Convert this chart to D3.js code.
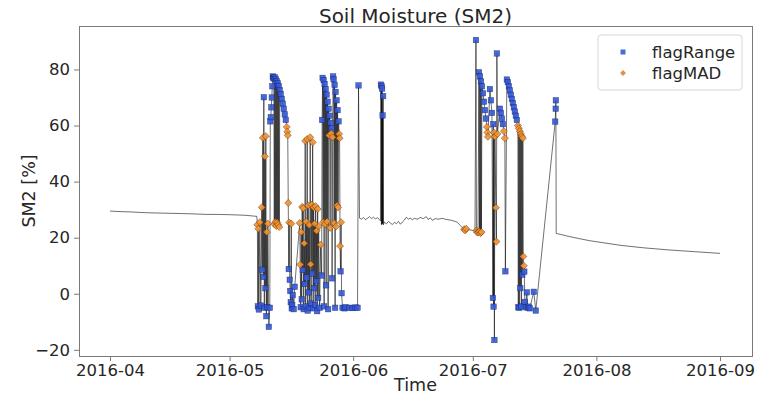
<!DOCTYPE html>
<html>
<head>
<meta charset="utf-8">
<script src="https://cdn.jsdelivr.net/npm/d3@7"></script>
<style>
  body { margin: 0; background: #fff; }
  svg text { font-family: "DejaVu Sans", sans-serif; fill: #262626; }
</style>
</head>
<body>
<svg id="chart" width="769" height="394"></svg>
<script>
// DATA  [time, SM2 %, flag]   flag: '' = ok, 'R' = flagRange, 'M' = flagMAD
const aprilCalm = [
  ['2016-04-01 00:00', 29.5, ''], ['2016-04-03 12:00', 29.3, ''], ['2016-04-06 00:00', 29.2, ''],
  ['2016-04-08 12:00', 29.0, ''], ['2016-04-10 06:00', 28.9, ''], ['2016-04-13 00:00', 28.8, ''],
  ['2016-04-16 00:00', 28.7, ''], ['2016-04-19 00:00', 28.6, ''], ['2016-04-21 12:00', 28.5, ''],
  ['2016-04-25 06:00', 28.3, ''], ['2016-04-28 00:00', 28.3, ''], ['2016-05-01 00:00', 28.2, ''],
  ['2016-05-04 21:00', 28.0, ''], ['2016-05-07 20:00', 27.6, ''],
]

const mayBurst = [
  ['2016-05-07 23:00', 24.6, 'M'], ['2016-05-08 02:00', -4.5, 'R'], ['2016-05-08 05:00', 23.2, 'M'],
  ['2016-05-08 08:00', -5.6, 'R'], ['2016-05-08 14:00', 25.5, 'M'], ['2016-05-08 20:00', -4.2, 'R'],
  ['2016-05-09 02:00', 30.8, 'M'], ['2016-05-09 05:00', 8.6, 'R'], ['2016-05-09 08:00', 55.6, 'M'],
  ['2016-05-09 11:00', 6.0, 'R'], ['2016-05-09 14:00', 70.1, 'R'], ['2016-05-09 17:00', -5.0, 'R'],
  ['2016-05-09 20:00', 49.0, 'M'], ['2016-05-09 23:00', 2.0, 'R'], ['2016-05-10 02:00', 56.2, 'M'],
  ['2016-05-10 05:00', -8.0, 'R'], ['2016-05-10 08:00', 22.0, 'M'], ['2016-05-10 11:00', -4.8, 'R'],
  ['2016-05-10 14:00', 25.0, 'M'], ['2016-05-10 20:00', -11.8, 'R'], ['2016-05-11 02:00', -5.0, 'R'],
  ['2016-05-11 05:00', 61.5, 'R'], ['2016-05-11 08:00', 63.0, 'R'], ['2016-05-11 11:00', 66.5, 'R'],
  ['2016-05-11 14:00', 70.0, 'R'], ['2016-05-11 17:00', 74.0, 'R'], ['2016-05-11 20:00', 77.5, 'R'],
  ['2016-05-11 23:00', 77.0, 'R'], ['2016-05-12 02:00', 76.8, 'R'], ['2016-05-12 05:00', 24.8, 'M'],
  ['2016-05-12 08:00', 77.2, 'R'], ['2016-05-12 11:00', 25.6, 'M'], ['2016-05-12 14:00', 76.5, 'R'],
  ['2016-05-12 17:00', 24.2, 'M'], ['2016-05-12 20:00', 75.8, 'R'], ['2016-05-12 23:00', 25.4, 'M'],
  ['2016-05-13 02:00', 75.0, 'R'], ['2016-05-13 05:00', 24.6, 'M'], ['2016-05-13 08:00', 74.0, 'R'],
  ['2016-05-13 11:00', 23.8, 'M'], ['2016-05-13 14:00', 72.6, 'R'], ['2016-05-13 20:00', 71.2, 'R'],
  ['2016-05-14 02:00', 69.5, 'R'], ['2016-05-14 08:00', 67.8, 'R'], ['2016-05-14 14:00', 66.0, 'R'],
  ['2016-05-14 20:00', 64.0, 'R'], ['2016-05-15 02:00', 62.0, 'R'], ['2016-05-15 08:00', 59.5, 'M'],
  ['2016-05-15 11:00', 57.8, 'M'], ['2016-05-15 14:00', 56.5, 'M'], ['2016-05-15 17:00', 32.4, 'M'],
  ['2016-05-15 20:00', 8.8, 'R'], ['2016-05-15 23:00', 25.4, 'M'], ['2016-05-16 02:00', 5.0, 'R'],
  ['2016-05-16 05:00', 1.0, 'R'], ['2016-05-16 08:00', -3.0, 'R'], ['2016-05-16 11:00', 25.0, 'M'],
  ['2016-05-16 14:00', -5.2, 'R'], ['2016-05-16 17:00', -4.0, 'R'], ['2016-05-16 20:00', -0.5, 'R'],
  ['2016-05-17 02:00', -5.5, 'R'], ['2016-05-17 08:00', 2.5, 'R'],
  ['2016-05-18 14:00', 25.2, 'M'], ['2016-05-18 17:00', 10.4, 'M'], ['2016-05-18 20:00', -4.8, 'R'],
  ['2016-05-18 23:00', 22.0, 'M'], ['2016-05-19 02:00', -2.0, 'R'], ['2016-05-19 05:00', 31.0, 'M'],
  ['2016-05-19 08:00', 8.5, 'R'], ['2016-05-19 11:00', 30.5, 'M'], ['2016-05-19 14:00', -5.5, 'R'],
  ['2016-05-19 17:00', 18.0, 'M'], ['2016-05-19 20:00', 3.5, 'R'], ['2016-05-19 23:00', 54.5, 'M'],
  ['2016-05-20 02:00', -4.5, 'R'], ['2016-05-20 05:00', 25.8, 'M'], ['2016-05-20 08:00', 5.8, 'R'],
  ['2016-05-20 11:00', 55.2, 'M'], ['2016-05-20 14:00', -6.0, 'R'], ['2016-05-20 17:00', 31.5, 'M'],
  ['2016-05-20 20:00', 0.5, 'R'], ['2016-05-20 23:00', 24.5, 'M'], ['2016-05-21 02:00', -5.0, 'R'],
  ['2016-05-21 05:00', 55.8, 'M'], ['2016-05-21 08:00', 10.5, 'M'], ['2016-05-21 11:00', -3.5, 'R'],
  ['2016-05-21 14:00', 31.8, 'M'], ['2016-05-21 17:00', 7.2, 'R'], ['2016-05-21 20:00', 54.0, 'M'],
  ['2016-05-21 23:00', -5.2, 'R'], ['2016-05-22 02:00', 30.8, 'M'], ['2016-05-22 05:00', 2.0, 'R'],
  ['2016-05-22 08:00', 25.0, 'M'], ['2016-05-22 11:00', -4.0, 'R'], ['2016-05-22 14:00', 31.2, 'M'],
  ['2016-05-22 17:00', 4.5, 'R'], ['2016-05-22 20:00', 22.5, 'M'], ['2016-05-22 23:00', -6.2, 'R'],
  ['2016-05-23 02:00', 30.2, 'M'], ['2016-05-23 05:00', -1.5, 'R'], ['2016-05-23 08:00', 24.0, 'M'],
  ['2016-05-23 14:00', -5.0, 'R'], ['2016-05-23 20:00', 17.5, 'M'], ['2016-05-24 02:00', 6.5, 'R'],
  ['2016-05-24 05:00', 62.0, 'R'], ['2016-05-24 08:00', 77.0, 'R'], ['2016-05-24 11:00', 25.5, 'M'],
  ['2016-05-24 14:00', 76.2, 'R'], ['2016-05-24 17:00', -4.5, 'R'], ['2016-05-24 20:00', 74.8, 'R'],
  ['2016-05-24 23:00', 24.8, 'M'], ['2016-05-25 02:00', 73.0, 'R'], ['2016-05-25 05:00', 3.0, 'R'],
  ['2016-05-25 08:00', 71.0, 'R'], ['2016-05-25 11:00', 25.8, 'M'], ['2016-05-25 14:00', 68.5, 'R'],
  ['2016-05-25 17:00', -5.5, 'R'], ['2016-05-25 20:00', 66.0, 'R'], ['2016-05-25 23:00', 56.5, 'M'],
  ['2016-05-26 02:00', 63.5, 'R'], ['2016-05-26 05:00', 23.5, 'M'], ['2016-05-26 08:00', 61.0, 'R'],
  ['2016-05-26 11:00', 57.2, 'M'], ['2016-05-26 14:00', 59.0, 'R'], ['2016-05-26 17:00', 5.5, 'R'],
  ['2016-05-26 20:00', 55.8, 'M'], ['2016-05-26 23:00', 77.5, 'R'], ['2016-05-27 02:00', 76.5, 'R'],
  ['2016-05-27 05:00', 25.2, 'M'], ['2016-05-27 08:00', 74.5, 'R'], ['2016-05-27 11:00', -5.0, 'R'],
  ['2016-05-27 14:00', 72.0, 'R'], ['2016-05-27 17:00', 24.0, 'M'], ['2016-05-27 20:00', 69.0, 'R'],
  ['2016-05-27 23:00', 31.5, 'M'], ['2016-05-28 02:00', 65.5, 'R'], ['2016-05-28 05:00', 30.8, 'M'],
  ['2016-05-28 08:00', 61.5, 'R'], ['2016-05-28 11:00', 57.0, 'M'], ['2016-05-28 14:00', 55.5, 'M'],
  ['2016-05-28 17:00', 17.0, 'M'], ['2016-05-28 20:00', 8.0, 'R'], ['2016-05-28 23:00', 25.5, 'M'],
  ['2016-05-29 02:00', 0.2, 'R'], ['2016-05-29 08:00', -5.0, 'R'], ['2016-05-29 20:00', -5.2, 'R'],
  ['2016-05-30 02:00', -4.8, 'R'], ['2016-05-31 02:00', -5.0, 'R'], ['2016-05-31 20:00', -5.1, 'R'],
  ['2016-06-01 14:00', -4.9, 'R'], ['2016-06-02 02:00', -5.0, 'R'], ['2016-06-02 08:00', 74.3, 'R'],
]

const juneCalm = [
  ['2016-06-02 14:00', 27.0, ''], ['2016-06-03 02:00', 26.6, ''], ['2016-06-03 14:00', 27.2, ''],
  ['2016-06-04 02:00', 26.4, ''], ['2016-06-04 14:00', 26.9, ''], ['2016-06-05 02:00', 27.5, ''],
  ['2016-06-05 14:00', 26.8, ''], ['2016-06-06 02:00', 27.3, ''], ['2016-06-06 14:00', 26.7, ''],
  ['2016-06-07 02:00', 27.1, ''], ['2016-06-07 14:00', 26.5, ''], ['2016-06-07 20:00', 26.0, ''],
  ['2016-06-07 23:00', 74.6, 'R'], ['2016-06-08 02:00', 24.6, ''], ['2016-06-08 03:00', 74.0, 'R'],
  ['2016-06-08 05:00', 25.0, ''], ['2016-06-08 06:00', 73.2, 'R'], ['2016-06-08 08:00', 24.8, ''],
  ['2016-06-08 09:00', 63.6, 'R'], ['2016-06-08 11:00', 25.2, ''], ['2016-06-08 12:00', 70.5, 'R'],
  ['2016-06-08 14:00', 24.6, ''], ['2016-06-08 20:00', 25.6, ''], ['2016-06-09 08:00', 24.9, ''],
  ['2016-06-09 20:00', 25.8, ''], ['2016-06-10 08:00', 25.2, ''], ['2016-06-10 20:00', 24.7, ''],
  ['2016-06-11 08:00', 25.5, ''], ['2016-06-11 20:00', 25.0, ''], ['2016-06-12 08:00', 25.8, ''],
  ['2016-06-12 20:00', 24.8, ''], ['2016-06-13 08:00', 25.6, ''], ['2016-06-13 20:00', 26.3, ''],
  ['2016-06-14 08:00', 27.3, ''], ['2016-06-14 20:00', 26.6, ''], ['2016-06-15 08:00', 27.0, ''],
  ['2016-06-15 20:00', 26.4, ''], ['2016-06-16 08:00', 26.9, ''], ['2016-06-17 02:00', 26.6, ''],
  ['2016-06-17 20:00', 27.2, ''], ['2016-06-18 14:00', 26.8, ''], ['2016-06-19 08:00', 27.5, ''],
  ['2016-06-19 20:00', 26.5, ''], ['2016-06-20 08:00', 27.1, ''], ['2016-06-20 20:00', 26.2, ''],
  ['2016-06-21 14:00', 26.8, ''], ['2016-06-22 08:00', 26.6, ''], ['2016-06-23 08:00', 26.9, ''],
  ['2016-06-24 08:00', 26.5, ''], ['2016-06-25 08:00', 26.3, ''], ['2016-06-26 08:00', 25.9, ''],
  ['2016-06-27 02:00', 25.5, ''], ['2016-06-27 20:00', 24.4, ''], ['2016-06-28 08:00', 23.6, ''],
  ['2016-06-28 20:00', 23.0, 'M'], ['2016-06-29 02:00', 22.6, 'M'], ['2016-06-29 08:00', 23.2, 'M'],
  ['2016-06-29 20:00', 22.9, ''], ['2016-06-30 07:00', 22.8, ''], ['2016-07-01 01:00', 22.5, ''],
  ['2016-07-01 13:00', 22.4, ''],
]

const julyBurst = [
  ['2016-07-01 19:00', 90.5, 'R'], ['2016-07-01 22:00', 22.6, 'M'], ['2016-07-02 01:00', 22.0, 'M'],
  ['2016-07-02 07:00', 21.8, 'M'], ['2016-07-02 13:00', 79.0, 'R'], ['2016-07-02 16:00', 22.2, 'M'],
  ['2016-07-02 19:00', 77.5, 'R'], ['2016-07-02 22:00', 21.6, 'M'], ['2016-07-03 01:00', 75.8, 'R'],
  ['2016-07-03 04:00', 22.0, 'M'], ['2016-07-03 07:00', 74.0, 'R'], ['2016-07-03 13:00', 71.5, 'R'],
  ['2016-07-03 19:00', 68.5, 'R'], ['2016-07-04 01:00', 65.5, 'R'], ['2016-07-04 07:00', 62.5, 'R'],
  ['2016-07-04 13:00', 59.5, 'M'], ['2016-07-04 16:00', 57.5, 'M'], ['2016-07-04 19:00', 56.0, 'M'],
  ['2016-07-05 07:00', 73.0, 'R'], ['2016-07-05 13:00', 69.0, 'R'], ['2016-07-05 19:00', 64.5, 'R'],
  ['2016-07-06 01:00', -1.5, 'R'], ['2016-07-06 03:00', 60.5, 'R'], ['2016-07-06 05:00', -4.6, 'R'],
  ['2016-07-06 07:00', 57.5, 'M'], ['2016-07-06 10:00', -16.5, 'R'], ['2016-07-06 13:00', 56.0, 'M'],
  ['2016-07-06 19:00', 30.7, 'M'], ['2016-07-06 22:00', 18.6, 'M'], ['2016-07-07 01:00', 85.7, 'R'],
  ['2016-07-07 04:00', 57.0, 'M'], ['2016-07-07 19:00', 66.0, 'R'], ['2016-07-08 01:00', 64.5, 'R'],
  ['2016-07-08 07:00', 62.5, 'R'], ['2016-07-08 13:00', 60.5, 'R'], ['2016-07-08 19:00', 58.0, 'M'],
  ['2016-07-09 01:00', 55.5, 'M'], ['2016-07-09 04:00', 8.0, 'R'], ['2016-07-09 13:00', 76.4, 'R'],
  ['2016-07-09 19:00', 75.5, 'R'], ['2016-07-10 01:00', 74.0, 'R'], ['2016-07-10 07:00', 72.5, 'R'],
  ['2016-07-10 13:00', 71.0, 'R'], ['2016-07-10 19:00', 69.5, 'R'], ['2016-07-11 01:00', 68.0, 'R'],
  ['2016-07-11 07:00', 66.5, 'R'], ['2016-07-11 13:00', 65.0, 'R'], ['2016-07-11 19:00', 63.5, 'R'],
  ['2016-07-12 01:00', 62.0, 'R'], ['2016-07-12 07:00', 60.0, 'M'], ['2016-07-12 10:00', -4.8, 'R'],
  ['2016-07-12 13:00', 59.0, 'M'], ['2016-07-12 16:00', -5.0, 'R'], ['2016-07-12 19:00', 58.0, 'M'],
  ['2016-07-12 22:00', 2.0, 'R'], ['2016-07-13 01:00', 57.0, 'M'], ['2016-07-13 04:00', -4.5, 'R'],
  ['2016-07-13 07:00', 56.2, 'M'], ['2016-07-13 10:00', 6.8, 'R'], ['2016-07-13 13:00', 55.5, 'M'],
  ['2016-07-13 16:00', 13.3, 'M'], ['2016-07-13 19:00', 10.0, 'M'], ['2016-07-13 22:00', 7.9, 'R'],
  ['2016-07-14 01:00', -2.9, 'R'], ['2016-07-14 07:00', -4.8, 'R'], ['2016-07-14 13:00', 0.5, 'R'],
  ['2016-07-14 19:00', -5.0, 'R'], ['2016-07-15 01:00', -4.6, 'R'], ['2016-07-15 07:00', -5.2, 'R'],
  ['2016-07-16 07:00', 0.7, 'R'], ['2016-07-16 19:00', -6.0, 'R'], ['2016-07-21 16:00', 61.4, 'R'],
  ['2016-07-21 19:00', 66.0, 'R'], ['2016-07-21 20:00', 69.0, 'R'],
]

const augustCalm = [
  ['2016-07-21 22:00', 21.5, ''], ['2016-07-22 22:00', 21.2, ''], ['2016-07-24 22:00', 20.5, ''],
  ['2016-07-27 22:00', 19.6, ''], ['2016-07-30 10:00', 18.9, ''], ['2016-08-02 16:00', 18.2, ''],
  ['2016-08-06 22:00', 17.3, ''], ['2016-08-12 17:00', 16.4, ''], ['2016-08-19 11:00', 15.6, ''],
  ['2016-08-25 17:00', 15.0, ''], ['2016-09-01 00:00', 14.4, ''],
]

const monthTicks = ['2016-04-01', '2016-05-01', '2016-06-01', '2016-07-01', '2016-08-01', '2016-09-01']
const valueTicks = [-20, 0, 20, 40, 60, 80]
const legendItems = [
  { key: 'R', label: 'flagRange' },
  { key: 'M', label: 'flagMAD' },
]

// PARSE
const parseTime = d3.utcParse('%Y-%m-%d %H:%M')
const series = [...aprilCalm, ...mayBurst, ...juneCalm, ...julyBurst, ...augustCalm]
  .map(([t, v, flag]) => ({ date: parseTime(t), value: v, flag }))

// SIZES
const margin = { top: 26, right: 17, bottom: 38, left: 79 }
const width = 769 - margin.left - margin.right
const height = 394 - margin.top - margin.bottom
const frameColor = '#7a7a7a'

const svg = d3.select('#chart')
const chart = svg.append('g').attr('transform', `translate(${margin.left},${margin.top})`)

// SCALES (data spans Apr 1 - Sep 1, matplotlib style 5% padding on both sides)
const xScale = d3.scaleUtc()
  .domain([new Date(Date.UTC(2016, 3, 1)), new Date(Date.UTC(2016, 8, 1))])
  .range([31, width - 32])

const yScale = d3.scaleLinear()
  .domain([-22.2, 95.5])
  .range([height, 0])

// AXES
const xAxis = d3.axisBottom(xScale)
  .tickValues(monthTicks.map(d => d3.utcParse('%Y-%m-%d')(d)))
  .tickFormat(d3.utcFormat('%Y-%m'))
  .tickSizeInner(5)
  .tickSizeOuter(0)
  .tickPadding(3)

const yAxis = d3.axisLeft(yScale)
  .tickValues(valueTicks)
  .tickSizeInner(5)
  .tickSizeOuter(0)
  .tickPadding(4)

const xg = chart.append('g')
  .attr('transform', `translate(0,${height})`)
  .call(xAxis)
xg.select('.domain').remove()
xg.selectAll('line').attr('stroke', frameColor)
xg.selectAll('text').attr('font-size', 16.5).attr('fill', '#262626')

const yg = chart.append('g').call(yAxis)
yg.select('.domain').remove()
yg.selectAll('line').attr('stroke', frameColor)
yg.selectAll('text').attr('font-size', 16.5).attr('fill', '#262626')

// clip marks to the axes box
chart.append('clipPath').attr('id', 'plot-clip')
  .append('rect').attr('width', width).attr('height', height)

const plot = chart.append('g').attr('clip-path', 'url(#plot-clip)')

// RAW LINE
const line = d3.line()
  .x(d => xScale(d.date))
  .y(d => yScale(d.value))

plot.append('path')
  .datum(series)
  .attr('d', line)
  .attr('fill', 'none')
  .attr('stroke', '#000')
  .attr('stroke-width', 0.75)
  .attr('stroke-opacity', 0.75)
  .attr('stroke-linejoin', 'round')

// FLAGS
const squareSize = 5.5
plot.selectAll('rect.flag-range')
  .data(series.filter(d => d.flag === 'R'))
  .join('rect')
  .attr('class', 'flag-range')
  .attr('x', d => xScale(d.date) - squareSize / 2)
  .attr('y', d => yScale(d.value) - squareSize / 2)
  .attr('width', squareSize)
  .attr('height', squareSize)
  .attr('fill', '#3459d8')
  .attr('fill-opacity', 0.9)
  .attr('stroke', '#0d1a55')
  .attr('stroke-width', 0.5)
  .attr('stroke-opacity', 0.7)

const diamond = d3.symbol().type(d3.symbolDiamond2).size(32)
plot.selectAll('path.flag-mad')
  .data(series.filter(d => d.flag === 'M'))
  .join('path')
  .attr('class', 'flag-mad')
  .attr('d', diamond)
  .attr('transform', d => `translate(${xScale(d.date)},${yScale(d.value)})`)
  .attr('fill', '#f39231')
  .attr('fill-opacity', 0.9)
  .attr('stroke', '#4a2400')
  .attr('stroke-width', 0.6)
  .attr('stroke-opacity', 0.7)

// FRAME
chart.append('rect')
  .attr('width', width)
  .attr('height', height)
  .attr('fill', 'none')
  .attr('stroke', frameColor)
  .attr('stroke-width', 1)
  .attr('shape-rendering', 'crispEdges')

// TITLE + AXIS NAMES
svg.append('text')
  .attr('x', margin.left + width / 2)
  .attr('y', 23)
  .attr('text-anchor', 'middle')
  .attr('font-size', 20)
  .text('Soil Moisture (SM2)')

svg.append('text')
  .attr('x', margin.left + width / 2)
  .attr('y', 391)
  .attr('text-anchor', 'middle')
  .attr('font-size', 17.5)
  .text('Time')

svg.append('text')
  .attr('transform', `translate(35,${margin.top + height / 2}) rotate(-90)`)
  .attr('text-anchor', 'middle')
  .attr('font-size', 17.5)
  .text('SM2 [%]')

// LEGEND
const legend = svg.append('g').attr('transform', 'translate(598,35)')
legend.append('rect')
  .attr('width', 144)
  .attr('height', 55)
  .attr('rx', 3)
  .attr('fill', '#fff')
  .attr('fill-opacity', 0.8)
  .attr('stroke', '#d6d6d6')

const entry = legend.selectAll('g.entry')
  .data(legendItems)
  .join('g')
  .attr('class', 'entry')
  .attr('transform', (d, i) => `translate(25,${17 + i * 21})`)

entry.filter(d => d.key === 'R').append('rect')
  .attr('x', -2.5).attr('y', -2.5).attr('width', 5).attr('height', 5)
  .attr('fill', '#4a6cd4')
entry.filter(d => d.key === 'M').append('path')
  .attr('d', d3.symbol().type(d3.symbolDiamond2).size(22))
  .attr('fill', '#d9944c')

entry.append('text')
  .attr('x', 29)
  .attr('dy', '0.35em')
  .attr('font-size', 16.5)
  .text(d => d.label)
</script>
</body>
</html>
